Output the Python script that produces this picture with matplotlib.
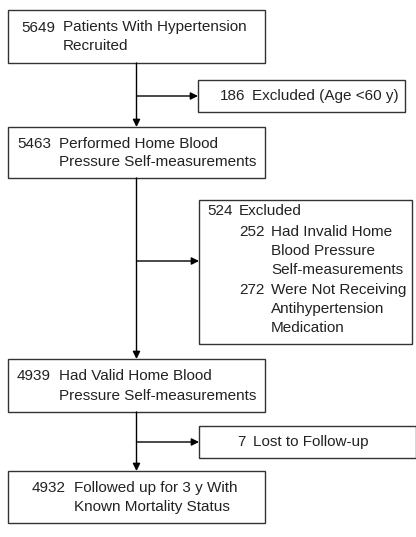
import matplotlib.pyplot as plt
from matplotlib.patches import Rectangle

# flow stages (main column) and exclusions
main_counts = ["5649", "5463", "4939", "4932"]
main_labels = [
    ["Patients With Hypertension", "Recruited"],
    ["Performed Home Blood", "Pressure Self-measurements"],
    ["Had Valid Home Blood", "Pressure Self-measurements"],
    ["Followed up for 3 y With", "Known Mortality Status"],
]
excl_counts = ["186", "524", "7"]
excl_labels = ["Excluded (Age <60 y)", "Excluded", "Lost to Follow-up"]
sub_counts = ["252", "272"]
sub_labels = [
    ["Had Invalid Home", "Blood Pressure", "Self-measurements"],
    ["Were Not Receiving", "Antihypertension", "Medication"],
]

plt.rcParams["font.family"] = ["Liberation Sans", "DejaVu Sans"]
FS = 11
TXT = "#222222"
LC = "#333333"

fig = plt.figure(figsize=(4.16, 5.37), dpi=100)
ax = fig.add_axes([0, 0, 1, 1])
ax.set_xlim(0, 416)
ax.set_ylim(537, 0)
ax.axis("off")


def box(x0, y0, x1, y1):
    ax.add_patch(Rectangle((x0, y0), x1 - x0, y1 - y0, fill=False,
                           edgecolor=LC, linewidth=1.0))


def arrow(x0, y0, x1, y1):
    ax.annotate("", xy=(x1, y1), xytext=(x0, y0),
                arrowprops=dict(arrowstyle="-|>", color="black", lw=1.0,
                                mutation_scale=11, shrinkA=0, shrinkB=0))


def label(x, y, s):
    ax.text(x, y, s, fontsize=FS, color=TXT, va="center", ha="left")


# main boxes: (top, bottom, number x, text x)
main_pos = [(10, 63, 21, 63), (127, 178, 17, 59), (359, 412, 17, 59), (471, 523, 32, 74)]
for (top, bot, nx, tx), n, lines in zip(main_pos, main_counts, main_labels):
    box(8, top, 265, bot)
    mid = (top + bot) / 2
    label(nx, mid - 9, n)
    for i, line in enumerate(lines):
        label(tx, mid - 9 + 19 * i, line)

# vertical connectors
cx = 136.5
for i in range(3):
    arrow(cx, main_pos[i][1], cx, main_pos[i + 1][0])

# exclusion boxes
box(198, 80, 405, 112)
box(199, 200, 412, 344)
box(199, 426, 416, 458)
arrow(cx, 96, 198, 96)
arrow(cx, 261, 199, 261)
arrow(cx, 442, 199, 442)

label(220, 96, excl_counts[0])
label(252, 96, excl_labels[0])
label(207, 211, excl_counts[1])
label(239, 211, excl_labels[1])
label(237, 442, excl_counts[2])
label(253, 442, excl_labels[2])

sub_y = [232, 290]
for y0, n, lines in zip(sub_y, sub_counts, sub_labels):
    label(239, y0, n)
    for i, line in enumerate(lines):
        label(271, y0 + 19 * i, line)

fig.savefig("out.png", dpi=100)
